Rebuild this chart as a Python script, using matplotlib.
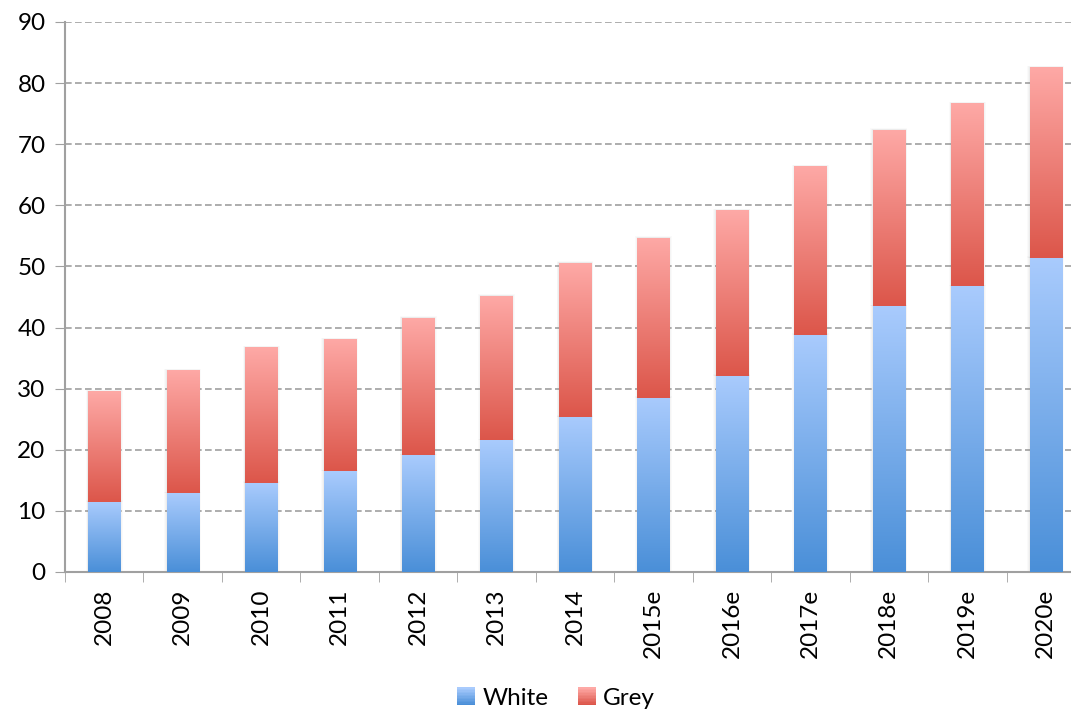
import numpy as np
import matplotlib
matplotlib.use("Agg")
import matplotlib.pyplot as plt
from matplotlib.patches import Patch, Rectangle
from matplotlib.colors import LinearSegmentedColormap
from matplotlib.legend_handler import HandlerBase

years = ["2008", "2009", "2010", "2011", "2012", "2013", "2014",
         "2015e", "2016e", "2017e", "2018e", "2019e", "2020e"]
white = [11.5, 12.9, 14.6, 16.5, 19.1, 21.6, 25.4, 28.5, 32.1, 38.8, 43.5, 46.8, 51.4]
grey_total = [29.6, 33.05, 36.8, 38.1, 41.6, 45.2, 50.6, 54.7, 59.2, 66.4, 72.4, 76.7, 82.6]
grey = [t - w for t, w in zip(grey_total, white)]
yticks = list(range(0, 91, 10))

plt.rcParams["font.family"] = ["Lato", "DejaVu Sans"]

fig = plt.figure(figsize=(10.71, 7.11), dpi=100)
ax = fig.add_axes([65 / 1071, 139 / 711, 1020 / 1071, 550 / 711])

x = np.arange(len(years))
width = 0.41

blue_cmap = LinearSegmentedColormap.from_list("blue", ["#4a8fd8", "#a9cbfd"])
red_cmap = LinearSegmentedColormap.from_list("red", ["#dc564a", "#fea9a6"])

white_bars = ax.bar(x, white, width, color="none", edgecolor="none", zorder=3)
grey_bars = ax.bar(x, grey, width, bottom=white, color="none", edgecolor="none", zorder=3)

grad = np.linspace(0, 1, 256).reshape(-1, 1)
for bars, cmap in ((white_bars, blue_cmap), (grey_bars, red_cmap)):
    for rect in bars:
        x0, y0 = rect.get_x(), rect.get_y()
        w, h = rect.get_width(), rect.get_height()
        # soft shadow around each bar
        for k, a in ((0.03, 0.04), (0.02, 0.05), (0.01, 0.07)):
            ax.add_patch(Rectangle((x0 - k, y0), w + 2 * k, h + k * 8,
                                   facecolor="#888888", edgecolor="none",
                                   alpha=a, zorder=2.5))
        im = ax.imshow(grad, cmap=cmap, origin="lower", aspect="auto",
                       extent=(x0, x0 + w, y0, y0 + h), zorder=3,
                       interpolation="bilinear")
        im.set_clip_path(rect)

ax.set_xlim(-0.5, len(years) - 0.5)
ax.set_ylim(0, 90)
ax.set_yticks(yticks)
ax.tick_params(axis="y", labelsize=17.5, length=7, color="#a0a0a0", pad=7)

ax.set_xticks(x)
ax.set_xticklabels(years, rotation=90, fontsize=17.5)
ax.set_xticks(np.arange(-0.5, len(years), 1), minor=True)
ax.tick_params(axis="x", which="major", length=0, pad=12)
ax.tick_params(axis="x", which="minor", length=7, color="#a0a0a0")

ax.grid(axis="y", linestyle=(0, (4, 2)), color="#a0a0a0", linewidth=1.2, zorder=1)
ax.set_axisbelow(True)
for side in ("top", "right"):
    ax.spines[side].set_visible(False)
for side in ("left", "bottom"):
    ax.spines[side].set_color("#a0a0a0")
    ax.spines[side].set_linewidth(1.5)


class GradientHandler(HandlerBase):
    """Legend key drawn as a vertical gradient square."""

    def __init__(self, cmap):
        super().__init__()
        self.cmap = cmap

    def create_artists(self, legend, orig_handle, xdescent, ydescent,
                       width, height, fontsize, trans):
        n = 12
        artists = []
        for i in range(n):
            r = Rectangle((-xdescent, -ydescent + height * i / n), width, height / n + 0.05,
                          facecolor=self.cmap(i / (n - 1)), edgecolor="none",
                          transform=trans)
            artists.append(r)
        return artists


h_white = Patch(facecolor="#79aeea", edgecolor="none", label="White")
h_grey = Patch(facecolor="#ec7d74", edgecolor="none", label="Grey")
fig.legend(handles=[h_white, h_grey], loc="center",
           bbox_to_anchor=(556 / 1071, 1 - 698 / 711),
           ncol=2, frameon=False, fontsize=17.5, handlelength=0.75, handleheight=0.75,
           handletextpad=0.3, columnspacing=1.2,
           handler_map={h_white: GradientHandler(blue_cmap),
                        h_grey: GradientHandler(red_cmap)})

fig.savefig("out.png", dpi=100)
